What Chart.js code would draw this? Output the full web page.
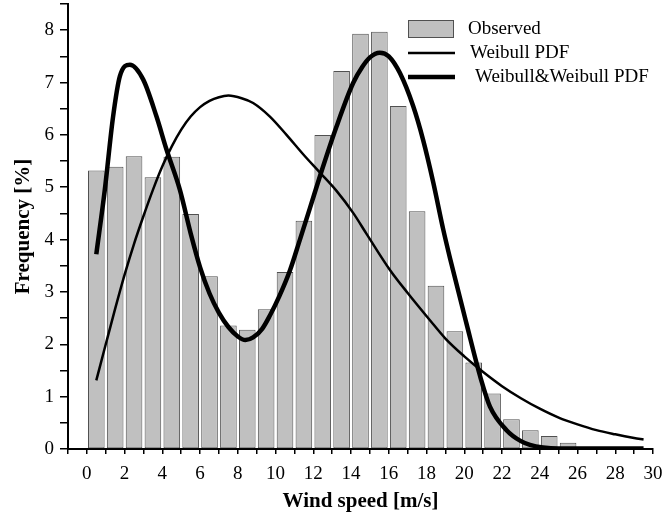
<!DOCTYPE html>
<html>
<head>
<meta charset="utf-8">
<script src="https://cdn.jsdelivr.net/npm/chart.js@4.4.1/dist/chart.umd.min.js"></script>
<style>
  html, body { margin: 0; padding: 0; background: #fff; }
  #wrap { width: 664px; height: 516px; }
</style>
</head>
<body>
<div id="wrap"><canvas id="chart" width="664" height="516"></canvas></div>
<script>
// Histogram bins (centre of each 1 m/s class) and observed frequency [%]
const binCenters = [0.5, 1.5, 2.5, 3.5, 4.5, 5.5, 6.5, 7.5, 8.5, 9.5, 10.5, 11.5, 12.5,
  13.5, 14.5, 15.5, 16.5, 17.5, 18.5, 19.5, 20.5, 21.5, 22.5, 23.5, 24.5, 25.5];
const observed = [5.32, 5.39, 5.59, 5.19, 5.58, 4.49, 3.30, 2.36, 2.28, 2.67, 3.38, 4.36, 6.00,
  7.22, 7.93, 7.97, 6.55, 4.54, 3.12, 2.25, 1.65, 1.06, 0.57, 0.36, 0.25, 0.12];

// Single Weibull fit
const weibullX = [0.5, 1.0, 1.5, 2.0, 2.5, 3.0, 3.5, 4.0, 4.5, 5.0, 5.5, 6.0, 6.5, 7.0,
  7.5, 8.2, 8.81, 9.7, 10.58, 11.46, 12.35, 13.23, 14.11, 14.82, 16.06, 17, 18.18, 19, 20,
  21, 22, 23, 24, 25, 26, 27, 28, 29, 29.5];
const weibullY = [1.31, 2.0, 2.68, 3.33, 3.92, 4.45, 4.95, 5.40, 5.78, 6.10, 6.35, 6.53, 6.65,
  6.72, 6.75, 6.70, 6.61, 6.35, 6.00, 5.63, 5.28, 4.93, 4.51, 4.11, 3.42, 2.98, 2.46, 2.11,
  1.77, 1.47, 1.20, 0.97, 0.77, 0.60, 0.47, 0.36, 0.28, 0.21, 0.18];

// Mixture Weibull&Weibull fit
const mixX = [0.5, 0.95, 1.39, 1.75, 2.28, 2.98, 3.69, 4.22, 4.93, 5.5, 6.0, 6.5, 7.0, 7.5,
  8.0, 8.4, 8.81, 9.3, 9.7, 10.2, 10.76, 11.29, 11.82, 12.35, 13.23, 14.11, 14.6, 15.0, 15.52,
  16.0, 16.59, 17.29, 17.82, 18.35, 18.88, 19.24, 20.12, 20.87, 21.36, 22.24, 23.0, 23.48,
  24.17, 25, 27, 29.5];
const mixY = [3.72, 4.95, 6.35, 7.12, 7.34, 7.06, 6.35, 5.72, 4.95, 4.12, 3.47, 2.97, 2.60,
  2.33, 2.15, 2.08, 2.13, 2.30, 2.55, 2.92, 3.41, 4.00, 4.60, 5.21, 6.16, 6.99, 7.30, 7.48,
  7.57, 7.50, 7.18, 6.55, 5.90, 5.10, 4.20, 3.65, 2.39, 1.35, 0.81, 0.36, 0.15, 0.08, 0.03,
  0.01, 0.01, 0.01];

const labels = ["Observed", "Weibull PDF", "Weibull&Weibull PDF"];

const FONT = "'Liberation Serif', 'Times New Roman', serif";
const zip = (xs, ys) => xs.map((x, i) => ({ x: x, y: ys[i] }));

// Legend drawn inside the plot, top right
const innerLegend = {
  id: "innerLegend",
  afterDraw(chart) {
    const ctx = chart.ctx;
    const ds = chart.data.datasets;
    ctx.save();
    ctx.font = "19px " + FONT;
    ctx.textBaseline = "middle";

    ctx.fillStyle = ds[0].backgroundColor;
    ctx.fillRect(408, 20, 45, 17);
    ctx.strokeStyle = ds[0].borderColor;
    ctx.lineWidth = 1;
    ctx.strokeRect(408.5, 20.5, 45, 17);
    ctx.fillStyle = "#000";
    ctx.fillText(ds[0].label, 468, 29);

    ctx.strokeStyle = "#000";
    ctx.lineWidth = ds[1].borderWidth;
    ctx.beginPath(); ctx.moveTo(408, 53); ctx.lineTo(455, 53); ctx.stroke();
    ctx.fillText(ds[1].label, 470, 53);

    ctx.lineWidth = ds[2].borderWidth;
    ctx.beginPath(); ctx.moveTo(408, 77); ctx.lineTo(455, 77); ctx.stroke();
    ctx.fillText(ds[2].label, 475, 77);
    ctx.restore();
  }
};

new Chart(document.getElementById("chart"), {
  type: "line",
  data: {
    datasets: [
      {
        type: "bar",
        label: labels[0],
        data: zip(binCenters, observed),
        backgroundColor: "#c0c0c0",
        borderColor: "#505050",
        borderWidth: 1,
        borderSkipped: false,
        barPercentage: 0.88,
        categoryPercentage: 1,
        order: 3
      },
      {
        label: labels[1],
        data: zip(weibullX, weibullY),
        borderColor: "#000",
        borderWidth: 2.5,
        pointRadius: 0,
        cubicInterpolationMode: "monotone",
        fill: false,
        order: 2
      },
      {
        label: labels[2],
        data: zip(mixX, mixY),
        borderColor: "#000",
        borderWidth: 4.5,
        pointRadius: 0,
        cubicInterpolationMode: "monotone",
        fill: false,
        order: 1
      }
    ]
  },
  options: {
    responsive: false,
    animation: false,
    layout: { padding: { top: 4, right: 11, left: 0, bottom: 0 } },
    plugins: {
      legend: { display: false },
      tooltip: { enabled: false }
    },
    scales: {
      x: {
        type: "linear",
        min: -1,
        max: 30,
        offset: false,
        afterFit: s => { s.height = 67; s.paddingLeft = 0; s.paddingRight = 0; },
        border: { display: true, color: "#000", width: 2 },
        grid: { offset: false, drawOnChartArea: false, drawTicks: true, tickLength: 5, color: "#000", lineWidth: 1.5 },
        ticks: {
          stepSize: 1,
          autoSkip: false,
          maxRotation: 0,
          padding: 9,
          color: "#000",
          font: { family: FONT, size: 19 },
          callback: v => (v >= 0 && v % 2 === 0 ? v : "")
        },
        title: {
          display: true,
          text: "Wind speed [m/s]",
          color: "#000",
          font: { family: FONT, size: 21, weight: "bold" },
          padding: { top: 0, bottom: 2 }
        }
      },
      y: {
        min: 0,
        max: 8.5,
        afterFit: s => { s.width = 68; s.paddingTop = 0; s.paddingBottom = 0; },
        border: { display: true, color: "#000", width: 2 },
        grid: { drawOnChartArea: false, drawTicks: true, tickLength: 8, color: "#000", lineWidth: 1.5 },
        ticks: {
          stepSize: 0.5,
          autoSkip: false,
          padding: 6,
          color: "#000",
          font: { family: FONT, size: 19 },
          callback: v => (Number.isInteger(v) ? v : "")
        },
        title: {
          display: true,
          text: "Frequency [%]",
          color: "#000",
          font: { family: FONT, size: 21, weight: "bold" },
          padding: { top: 11, bottom: 0 }
        }
      }
    }
  },
  plugins: [innerLegend]
});
</script>
</body>
</html>
